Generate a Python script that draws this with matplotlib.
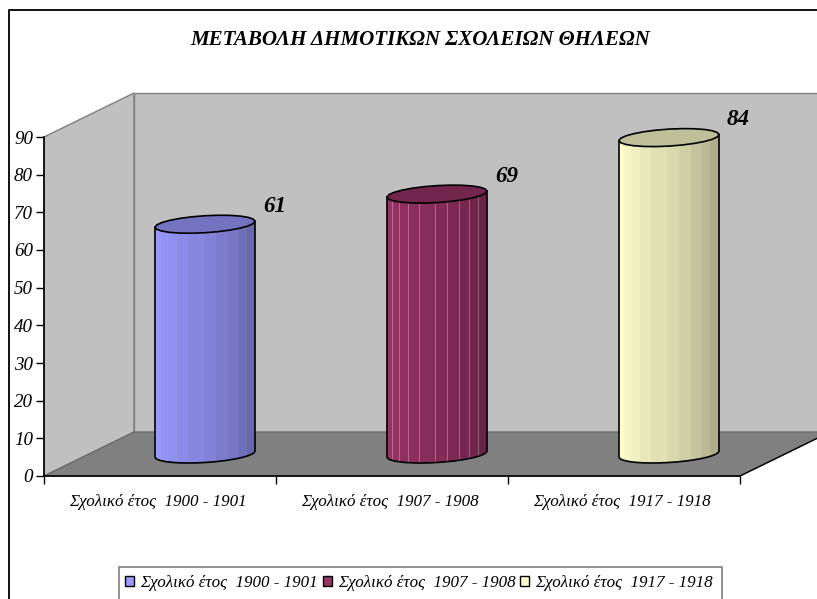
import matplotlib
matplotlib.use("Agg")
import matplotlib.pyplot as plt
import numpy as np
from matplotlib.patches import Polygon, Rectangle
from matplotlib.ticker import FixedLocator
from matplotlib.transforms import ScaledTranslation

# values
categories = ["Σχολικό έτος  1900 - 1901", "Σχολικό έτος  1907 - 1908", "Σχολικό έτος  1917 - 1918"]
values = [61, 69, 84]
colors = ["#9999FF", "#993366", "#FFFFCC"]
yticks = [0, 10, 20, 30, 40, 50, 60, 70, 80, 90]
title = "ΜΕΤΑΒΟΛΗ ΔΗΜΟΤΙΚΩΝ ΣΧΟΛΕΙΩΝ ΘΗΛΕΩΝ"

W, H = 817, 599
FONT = "Liberation Serif"

# cylinder facets, left to right
facets = [0, .05, .12, .21, .32, .48, .6, .72, .82, .91, 1]
shade = [1, .97, .94, .91, .88, .85, .81, .77, .73, .68]
line_alpha = [.08, .3, .08]


def px(size):
    return size * 0.72


fig = plt.figure(figsize=(W / 100, H / 100), dpi=100)
ax = fig.add_axes([44 / W, 1 - 476 / H, 696 / W, 339 / H])
ax.set_xlim(0, 3)
ax.set_ylim(0, 90)
ax.patch.set_visible(False)

# one category is 232px, one y unit 3.767px
xpx = 3 / 696
ypx = 90 / 339
dx = 90 * xpx
dy = 44 * ypx

# frame round the chart, open on the right and at the bottom
fig.add_artist(plt.Line2D([9 / W, 9 / W, 1], [0, 1 - 10 / H, 1 - 10 / H], color="#111111", lw=1.4))

# walls and floor
ax.add_patch(Polygon([(0, 0), (dx, dy), (dx, 90 + dy), (0, 90)], fc="#C0C0C0", ec="#808080", lw=1, clip_on=False, zorder=1))
ax.add_patch(Polygon([(dx, dy), (3.4, dy), (3.4, 90 + dy), (dx, 90 + dy)], fc="#C0C0C0", ec="#808080", lw=1, clip_on=False, zorder=1))
ax.add_patch(Polygon([(0, 0), (3, 0), (3 + dx, dy), (3.4, dy), (dx, dy)], fc="#808080", ec="#666666", lw=.8, clip_on=False, zorder=2))
ax.plot([3, 3 + dx], [0, dy], color="black", lw=1, clip_on=False, zorder=3)

# cylinders
r = 50 * xpx
tilt = 3 * ypx
minor = 8.5 * ypx
for i, v in enumerate(values):
    cx = i + 0.5 + dx / 2
    base = dy / 2
    rgb = np.array(matplotlib.colors.to_rgb(colors[i]))

    for j in range(len(shade)):
        u = np.linspace(-1 + 2 * facets[j], -1 + 2 * facets[j + 1], 6)
        off = tilt * u - minor * np.sqrt(1 - u ** 2)
        xs = cx + r * u
        pts = list(zip(xs, base + off)) + list(zip(xs[::-1], (base + v + off)[::-1]))
        ax.add_patch(Polygon(pts, fc=rgb * shade[j], ec=rgb * shade[j], lw=.3, clip_on=False, zorder=4))
        if j > 0:
            ax.plot([xs[0], xs[0]], [base + off[0], base + v + off[0]], color="white", lw=.7, alpha=line_alpha[i], clip_on=False, zorder=5)

    # outline of the body
    t = np.linspace(np.pi, 2 * np.pi, 19)
    u = np.cos(t)
    off = tilt * u + minor * np.sin(t)
    ox = np.r_[cx - r, cx + r * u, cx + r]
    oy = np.r_[base + v + off[0], base + off, base + v + off[-1]]
    ax.plot(ox, oy, color="black", lw=1.2, clip_on=False, zorder=6)

    # top
    t = np.linspace(0, 2 * np.pi, 25)
    tx = cx + r * np.cos(t)
    ty = base + v + tilt * np.cos(t) + minor * np.sin(t)
    ax.add_patch(Polygon(list(zip(tx, ty)), fc=rgb * .75, ec="black", lw=1.2, clip_on=False, zorder=7))

    ax.annotate(str(v), (cx + r, base + v), xytext=(px(8), px(18)), textcoords="offset points",
                family=FONT, style="italic", weight="bold", fontsize=px(23),
                ha="left", va="center", annotation_clip=False, zorder=8)

# axes
for s in ["top", "right"]:
    ax.spines[s].set_visible(False)
for s in ["left", "bottom"]:
    ax.spines[s].set_linewidth(1.2)
    ax.spines[s].set_zorder(3)
ax.set_yticks(yticks)
ax.set_xticks([0, 1, 2, 3])
ax.set_xticklabels([])
ax.xaxis.set_minor_locator(FixedLocator([.5, 1.5, 2.5]))
ax.set_xticklabels(categories, minor=True)
ax.tick_params(axis="both", which="major", length=px(8), width=1, direction="out")
ax.tick_params(axis="x", which="minor", length=0, pad=px(17))
ax.tick_params(axis="y", pad=px(3))
for lab in ax.get_yticklabels():
    lab.set_family(FONT)
    lab.set_style("italic")
    lab.set_fontsize(px(19))
shift = ScaledTranslation(-2 / 100, -1 / 100, fig.dpi_scale_trans)
for lab in ax.get_xticklabels(minor=True):
    lab.set_family(FONT)
    lab.set_style("italic")
    lab.set_fontsize(px(17))
    lab.set_transform(lab.get_transform() + shift)

fig.text(420 / W, 1 - 40 / H, title, family=FONT, style="italic", weight="bold",
         fontsize=px(21), ha="center", va="center")

# legend box runs past the bottom of the picture
fig.add_artist(Rectangle((119 / W, -10 / H), 603 / W, (H + 10 - 567) / H, transform=fig.transFigure,
                         fc="white", ec="#808080", lw=1.2))
handles = [Rectangle((0, 0), 1, 1, fc=c, ec="black", lw=1) for c in colors]
fig.legend(handles, categories, loc="upper left", bbox_to_anchor=(125 / W, 1 - 575 / H), ncols=3,
           frameon=False, borderaxespad=0, borderpad=0,
           handlelength=.53, handleheight=.53, handletextpad=.35, columnspacing=.3,
           prop={"family": FONT, "style": "italic", "size": px(17)})

fig.savefig("out.png", dpi=100)
